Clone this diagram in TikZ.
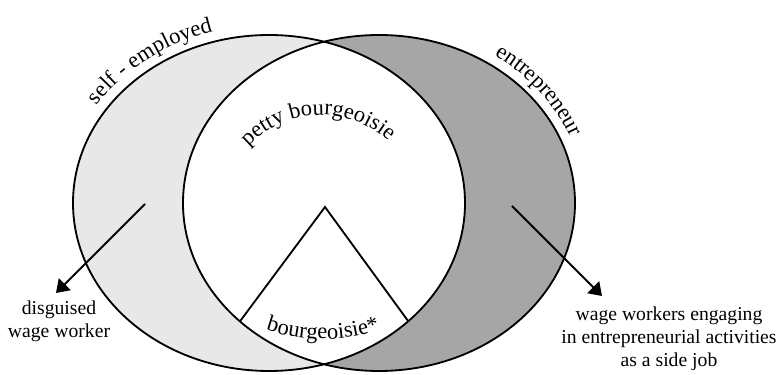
\documentclass[tikz,border=0pt]{standalone}
\usepackage{fontspec}
\setmainfont{Liberation Serif}
\usepackage{tikz}
\usetikzlibrary{arrows.meta,calc,positioning,decorations.text}
\tikzset{
        ring/.style = {draw, line width=1.1pt},
        arrow/.style = {draw, line width=1.1pt, -{Triangle[length=7.5pt,width=10pt]}},
        textlabel/.style = {align=center, inner sep=0pt,
            font=\fontsize{11.8}{13.8}\selectfont},
        curved/.style = {decorate, decoration={text along path, text align=center}},
    }
\newcommand{\curvefont}{\fontsize{13.5}{15}\selectfont}
\definecolor{selfgray}{gray}{0.91}
\definecolor{entgray}{gray}{0.65}

\begin{document}
\begin{tikzpicture}[x=0.6pt,y=0.6pt]
    \useasboundingbox (0,0) rectangle (780,375);

    \coordinate (selfc) at (269,172);
    \coordinate (entc) at (379,172);
    \coordinate (apex) at (325,168);
    \coordinate (bl) at (238,51);
    \coordinate (br) at (411,50);

    \fill[selfgray] (selfc) ellipse [x radius=196, y radius=168];
    \fill[entgray] (entc) ellipse [x radius=196, y radius=168];
    \begin{scope}
        \clip (selfc) ellipse [x radius=196, y radius=168];
        \clip (entc) ellipse [x radius=196, y radius=168];
        \fill[white] (0,0) rectangle (780,375);
        \draw[ring] ($(apex)!1.3!(bl)$) -- (apex) -- ($(apex)!1.3!(br)$);
    \end{scope}
    \draw[ring] (selfc) ellipse [x radius=196, y radius=168];
    \draw[ring] (entc) ellipse [x radius=196, y radius=168];

    % arrows out of the two outer parts
    \coordinate (selfpt) at (145,171);
    \coordinate (dwtip) at (56,82);
    \coordinate (entpt) at (512,169);
    \coordinate (sjtip) at (602,79);
    \draw[arrow] (selfpt) -- (dwtip);
    \draw[arrow] (entpt) -- (sjtip);

    \node[textlabel] (disguised) at (59,54) {disguised\\wage worker};
    \node[textlabel] (sidejob) at (669,36)
        {wage workers engaging\\in entrepreneurial activities\\as a side job};

    % curved labels
    \path[curved, decoration={text={|\curvefont|self - employed}}]
        ($(selfc)+(162:206 and 178)$) arc [start angle=162, end angle=92, x radius=206, y radius=178];
    \path[curved, decoration={text={|\curvefont|entrepreneur}}]
        ($(entc)+(70:206 and 178)$) arc [start angle=70, end angle=6, x radius=206, y radius=178];
    \path[curved, decoration={text={|\curvefont|petty bourgeoisie}}]
        ($(321,160)+(152:100)$) arc [start angle=152, end angle=32, radius=100];
    \path[curved, decoration={text={|\curvefont|bourgeoisie*}}]
        ($(323,216)+(240:180)$) arc [start angle=240, end angle=300, radius=180];
\end{tikzpicture}
\end{document}
